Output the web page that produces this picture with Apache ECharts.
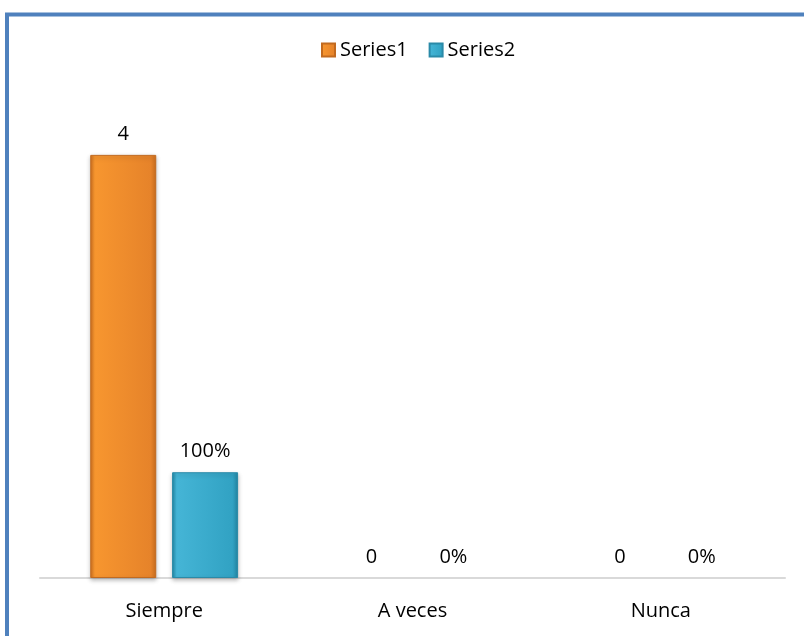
<!DOCTYPE html>
<html>
<head>
<meta charset="utf-8">
<script src="https://cdn.jsdelivr.net/npm/echarts@6/dist/echarts.min.js"></script>
<style>
html,body{margin:0;padding:0;background:#fff;}
#chart{width:804px;height:636px;}
</style>
</head>
<body>
<div id="chart"></div>
<script>
var categories = ['Siempre', 'A veces', 'Nunca'];
var series1Values = [4, 0, 0];
var series2Values = [1, 0, 0];
var seriesNames = ['Series1', 'Series2'];

var chart = echarts.init(document.getElementById('chart'), null, {renderer: 'canvas'});
var FONT = 'Open Sans';

function barGrad(c1, c2, c3) {
  return new echarts.graphic.LinearGradient(0, 0, 1, 0, [
    {offset: 0, color: c3},
    {offset: 0.07, color: c1},
    {offset: 0.92, color: c2},
    {offset: 1, color: c3}
  ]);
}

function items(values) {
  return values.map(function (v) {
    if (v === 0) {
      return {value: v, itemStyle: {borderWidth: 0, shadowBlur: 0, shadowOffsetY: 0, opacity: 0}};
    }
    return {value: v};
  });
}

var option = {
  animation: false,
  backgroundColor: '#ffffff',
  graphic: [{
    type: 'rect',
    silent: true,
    shape: {x: 7, y: 14.5, width: 820, height: 660},
    style: {fill: 'none', stroke: '#4f81bd', lineWidth: 4}
  }],
  legend: {
    top: 35,
    left: 316,
    itemWidth: 13,
    itemHeight: 13,
    itemGap: 21,
    icon: 'rect',
    textStyle: {fontFamily: FONT, fontSize: 20, color: '#000'},
    data: seriesNames
  },
  grid: {left: 40, right: 19, top: 102, bottom: 58},
  xAxis: {
    type: 'category',
    data: categories,
    axisLine: {show: true, lineStyle: {color: '#d9d9d9', width: 2}},
    axisTick: {show: false},
    axisLabel: {fontFamily: FONT, fontSize: 20, color: '#000', margin: 23}
  },
  yAxis: {
    type: 'value',
    min: 0,
    max: 4.5,
    show: false,
    splitLine: {show: false}
  },
  series: [{
    name: seriesNames[0],
    type: 'bar',
    data: items(series1Values),
    barWidth: 66,
    barGap: '24%',
    itemStyle: {
      color: barGrad('#f7962f', '#e6832a', '#cf701f'),
      borderColor: '#c26a1f',
      borderWidth: 1,
      shadowColor: 'rgba(0,0,0,0.25)',
      shadowBlur: 4,
      shadowOffsetY: 2
    },
    label: {
      show: true, position: 'top', distance: 11,
      fontFamily: FONT, fontSize: 20, color: '#000', opacity: 1
    }
  }, {
    name: seriesNames[1],
    type: 'bar',
    data: items(series2Values),
    barWidth: 66,
    itemStyle: {
      color: barGrad('#45b5d6', '#31a2c3', '#2288a6'),
      borderColor: '#2a8aa8',
      borderWidth: 1,
      shadowColor: 'rgba(0,0,0,0.25)',
      shadowBlur: 4,
      shadowOffsetY: 2
    },
    label: {
      show: true, position: 'top', distance: 11,
      fontFamily: FONT, fontSize: 20, color: '#000', opacity: 1,
      formatter: function (p) { return Math.round(p.value * 100) + '%'; }
    }
  }]
};
chart.setOption(option);
</script>
</body>
</html>
